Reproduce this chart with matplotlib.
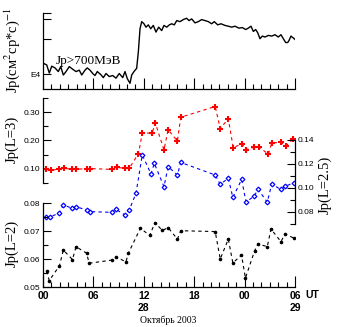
import matplotlib.pyplot as plt
from matplotlib.ticker import MultipleLocator, FixedLocator

plt.rcParams['font.family'] = ['Liberation Sans', 'DejaVu Sans']
plt.rcParams['mathtext.fontset'] = 'stix'

# proton flux Jp > 700 MeV (units of E4), hours from 00 UT 28 Oct 2003
hrs_top = [0.04, 0.44, 0.75, 1.04, 1.43, 1.82, 2.11, 2.42, 2.74, 3.13, 3.54, 3.93,
           4.32, 4.61, 5.0, 5.27, 5.6, 5.92, 6.19, 6.46, 6.87, 7.18, 7.5, 7.89,
           8.3, 8.69, 9.08, 9.49, 9.76, 10.04, 10.36, 10.56, 10.83, 11.15, 11.35, 11.55,
           11.75, 12.02, 12.26, 12.54, 12.82, 13.13, 13.45, 13.77, 14.13, 14.4, 14.73, 15.04,
           15.32, 15.63, 15.92, 16.31, 16.7, 17.1, 17.38, 17.7, 18.1, 18.49, 18.89, 19.29,
           19.68, 20.08, 20.39, 20.8, 21.19, 21.67, 22.06, 22.46, 22.86, 23.33, 23.73, 24.13,
           24.44, 24.76, 25.04, 25.32, 25.56, 25.83, 26.11, 26.43, 26.82, 27.23, 27.62, 28.01,
           28.33, 28.61, 28.89, 29.13, 29.29, 29.52, 29.8, 30.0]
flux_top = [1.24, 1.20, 1.02, 1.17, 1.13, 1.05, 1.16, 0.98, 1.05, 1.16, 1.10, 1.05,
            1.08, 0.98, 1.08, 1.13, 1.08, 1.01, 0.97, 1.05, 0.99, 0.93, 1.01, 0.95,
            0.97, 0.92, 1.01, 0.93, 1.05, 0.91, 0.83, 0.98, 1.05, 1.12, 1.56, 2.48,
            2.86, 2.74, 2.56, 2.68, 2.48, 2.65, 2.32, 2.56, 2.39, 2.65, 2.56, 2.68,
            2.74, 2.68, 2.92, 2.86, 2.98, 3.06, 2.92, 3.02, 2.79, 2.86, 2.98, 2.92,
            2.86, 2.74, 2.86, 2.68, 2.74, 2.65, 2.61, 2.56, 2.61, 2.51, 2.54, 2.44,
            2.51, 2.61, 2.35, 2.44, 2.29, 2.03, 2.14, 2.10, 2.17, 2.14, 2.20, 2.10,
            2.20, 2.03, 1.88, 1.88, 1.96, 2.14, 2.06, 2.00]

# Jp(L=3)
hrs_l3 = [0.36, 0.95, 1.94, 2.5, 3.49, 3.93, 5.2, 5.6, 8.18, 8.77, 9.76, 10.27,
          11.35, 11.82, 13.0, 13.37, 14.4, 14.9, 16.0, 16.4, 20.5, 21.1, 22.06, 22.65,
          23.65, 24.17, 25.15, 25.71, 26.82, 27.23, 28.3, 28.9, 29.8]
jp_l3 = [0.098, 0.095, 0.099, 0.102, 0.098, 0.098, 0.101, 0.101, 0.098, 0.105, 0.102, 0.102,
         0.153, 0.225, 0.227, 0.262, 0.167, 0.238, 0.198, 0.282, 0.320, 0.242, 0.277, 0.174,
         0.189, 0.168, 0.176, 0.178, 0.151, 0.191, 0.194, 0.180, 0.206]

# Jp(L=2.5)
hrs_l25 = [0.36, 0.83, 1.94, 2.42, 3.49, 3.93, 5.2, 5.6, 8.25, 8.69, 9.76, 10.27,
           11.07, 11.82, 12.86, 13.25, 14.4, 14.9, 16.0, 16.4, 20.5, 21.1, 22.06, 22.6,
           23.65, 24.17, 25.15, 25.6, 26.7, 27.23, 28.3, 28.8, 29.85]
jp_l25 = [0.0761, 0.0761, 0.0789, 0.0858, 0.0831, 0.0844, 0.0817, 0.0803, 0.0797, 0.0822, 0.0775, 0.0817,
          0.0956, 0.1275, 0.1117, 0.1206, 0.1011, 0.1178, 0.1108, 0.1213, 0.1108, 0.1031, 0.1081, 0.0921,
          0.1071, 0.0883, 0.0933, 0.0989, 0.0882, 0.1033, 0.0988, 0.1013, 0.1044]

# Jp(L=2)
hrs_l2 = [0.42, 0.75, 1.96, 2.42, 3.51, 3.93, 5.18, 5.5, 8.18, 8.69, 9.88, 10.15,
          11.6, 12.7, 13.33, 14.2, 14.9, 16.0, 16.4, 20.5, 21.1, 22.06, 22.6, 23.63,
          24.1, 25.2, 25.6, 26.7, 27.14, 28.33, 28.8, 29.85]
jp_l2 = [0.0557, 0.0523, 0.0576, 0.0632, 0.0598, 0.0644, 0.0621, 0.0585, 0.0596, 0.0607, 0.059, 0.062,
         0.071, 0.0684, 0.073, 0.0702, 0.0712, 0.0671, 0.0701, 0.0698, 0.060, 0.0671, 0.0586, 0.0614,
         0.0532, 0.063, 0.0654, 0.0644, 0.0707, 0.0662, 0.0689, 0.0675]

hour_ticks = [0, 6, 12, 18, 24, 30]
hour_labels = ['00', '06', '12\n28', '18', '00', '06\n29']

fig = plt.figure(figsize=(3.38, 3.27), dpi=100)
L, W = 43 / 338, 252 / 338
ax_top = fig.add_axes([L, 0.7278, W, 0.2324])
ax3 = fig.add_axes([L, 0.4404, W, 0.2599])
ax25 = fig.add_axes([L, 0.3150, W, 0.2569])
ax2 = fig.add_axes([L, 0.1223, W, 0.2569])


def style(ax, left=True, right=False, bottom=False):
    ax.patch.set_visible(False)
    for side, show in (('left', left), ('right', right), ('bottom', bottom), ('top', False)):
        ax.spines[side].set_visible(show)
        ax.spines[side].set_linewidth(0.9)
    ax.set_xlim(0, 30)
    ax.tick_params(which='both', direction='in', width=0.8, labelsize=6,
                   left=left, labelleft=left, right=right, labelright=right,
                   bottom=bottom, labelbottom=False, top=False, pad=2)
    ax.tick_params(which='major', length=6)
    ax.tick_params(which='minor', length=3.5)
    if bottom:
        ax.set_xticks(hour_ticks)
        ax.xaxis.set_minor_locator(MultipleLocator(1))
        ax.tick_params(axis='x', which='major', length=8)
    else:
        ax.set_xticks([])


# top panel: >700 MeV protons, log scale
style(ax_top, bottom=True)
ax_top.plot(hrs_top, [v * 1e4 for v in flux_top], color='black', lw=1)
ax_top.set_yscale('log')
ax_top.set_ylim(7.4e3, 3.4e4)
ax_top.yaxis.set_major_locator(FixedLocator([1e4, 2e4, 3e4, 3.4e4]))
ax_top.yaxis.set_minor_locator(FixedLocator([]))
ax_top.set_yticklabels(['E4', '', '', ''])
ax_top.tick_params(axis='y', length=6)
ax_top.text(0.05, 0.33, 'Jp>700МэВ', transform=ax_top.transAxes, fontsize=9.5,
            family='Liberation Serif')

# L=3
style(ax3)
ax3.plot(hrs_l3, jp_l3, color='red', ls=(0, (3, 3)), lw=0.8,
         marker='+', ms=5, mew=1.5)
ax3.set_ylim(0.05, 0.35)
ax3.set_yticks([0.10, 0.20, 0.30])
ax3.set_yticklabels(['0.10', '0.20', '0.30'])
ax3.yaxis.set_minor_locator(FixedLocator([0.05, 0.15, 0.25, 0.35]))

# L=2.5 on the right
style(ax25, left=False, right=True)
ax25.plot(hrs_l25, jp_l25, color='blue', ls=(0, (3, 3)), lw=0.8,
          marker='D', ms=2.4, mfc='white', mec='blue', mew=0.9)
ax25.set_ylim(0.07, 0.14)
ax25.set_yticks([0.08, 0.10, 0.12, 0.14])
ax25.set_yticklabels(['0.08', '0.10', '0.12', '0.14'])
ax25.yaxis.set_minor_locator(FixedLocator([0.07, 0.09, 0.11, 0.13]))

# L=2 with the time axis
style(ax2, bottom=True)
ax2.plot(hrs_l2, jp_l2, color='black', ls=(0, (3, 3)), lw=0.8,
         marker='o', ms=1.6)
ax2.set_ylim(0.05, 0.08)
ax2.set_yticks([0.05, 0.06, 0.07, 0.08])
ax2.set_yticklabels(['0.05', '0.06', '0.07', '0.08'])
ax2.yaxis.set_minor_locator(FixedLocator([0.055, 0.065, 0.075]))
ax2.tick_params(axis='x', labelbottom=True, labelsize=7.5, pad=3)
ax2.set_xticklabels(hour_labels, fontweight='bold', linespacing=1.2, va='top')

serif = 'Liberation Serif'
fig.text(0.0355, 0.845, 'Jp(см$^2$ср*с)$^{-1}$', rotation=90, ha='center', va='center',
         fontsize=10.5, family=serif)
fig.text(0.0355, 0.575, 'Jp(L=3)', rotation=90, ha='center', va='center',
         fontsize=10.5, family=serif)
fig.text(0.0355, 0.257, 'Jp(L=2)', rotation=90, ha='center', va='center',
         fontsize=10.5, family=serif)
fig.text(0.962, 0.434, 'Jp(L=2.5)', rotation=90, ha='center', va='center',
         fontsize=10.5, family=serif)
fig.text(0.925, 0.099, 'UT', ha='center', va='center', fontsize=7.5, fontweight='bold')
fig.text(0.497, 0.022, 'Октябрь 2003', ha='center', va='center', fontsize=7, family=serif)

fig.savefig('out.png', dpi=100)
